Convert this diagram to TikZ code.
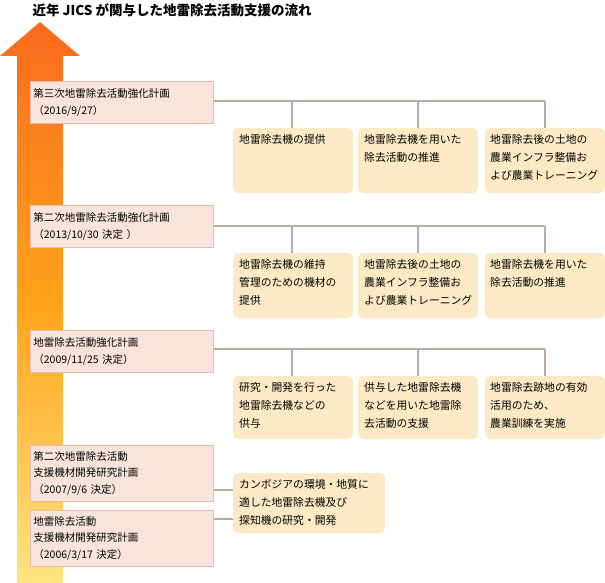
\documentclass[tikz,border=0pt]{standalone}
\usepackage{fontspec}
\setmainfont{Noto Sans CJK JP}
\definecolor{pinkf}{HTML}{F9E4DB}
\definecolor{pinkd}{HTML}{E8BBAA}
\definecolor{yel}{HTML}{FCEAC4}
\definecolor{ln}{HTML}{BCADA3}
\definecolor{orT}{HTML}{FA6A1E}
\definecolor{orB}{HTML}{FFE580}
\begin{document}
\begin{tikzpicture}[x=1pt,y=-1pt,
  plan/.style={draw=pinkd,fill=pinkf,line width=0.8pt,anchor=north west,minimum width=183pt,align=left,text width=177pt,inner sep=3pt,font=\fontsize{10.5}{16.5}\selectfont},
  acttxt/.style={anchor=north west,align=left,text width=118pt,inner sep=0pt,font=\fontsize{10.8}{18}\selectfont},
  actbg/.style={fill=yel,rounded corners=5pt},
  conn/.style={draw=ln,line width=1.3pt}]
\useasboundingbox (0,0) rectangle (605,583);
\shade[top color=orT,bottom color=orB,middle color=orange!80!yellow!90!white]
  (17,583) -- (17,56) -- (0,56) -- (40,22) -- (80,56) -- (63,56) -- (63,583) -- cycle;
\node[anchor=west,font=\fontsize{13.5}{15}\selectfont\bfseries] (title) at (29,10) {近年 JICS が関与した地雷除去活動支援の流れ};
% yellow backgrounds
\foreach \x/\y/\h in {233/128/65,358/128/65,485/128/65,233/253/65,358/253/65,485/253/65,233/376/63,358/376/63,485/376/63}
  {\fill[actbg] (\x,\y) rectangle ++(120,\h);}
\fill[actbg] (233,473) rectangle ++(152,60);
% row 1
\node[plan,minimum height=42pt] (p1) at (30,81) {第三次地雷除去活動強化計画\\（2016/9/27）};
\coordinate (h1) at (545,101);
\node[acttxt] (a11) at (239,134) {地雷除去機の提供};
\node[acttxt] (a12) at (364,134) {地雷除去機を用いた\\除去活動の推進};
\node[acttxt] (a13) at (490,134) {地雷除去後の土地の\\農業インフラ整備お\\よび農業トレーニング};
\draw[conn] (p1.east|-h1) -- (h1);
\foreach \c in {292,418,545}{\coordinate (t) at (\c,128); \draw[conn] (t) -- (t|-h1);}
% row 2
\node[plan,minimum height=42pt] (p2) at (30,205) {第二次地雷除去活動強化計画\\（2013/10/30 決定 ）};
\coordinate (h2) at (545,226);
\node[acttxt] (a21) at (239,259) {地雷除去機の維持\\管理のための機材の\\提供};
\node[acttxt] (a22) at (364,259) {地雷除去後の土地の\\農業インフラ整備お\\よび農業トレーニング};
\node[acttxt] (a23) at (490,259) {地雷除去機を用いた\\除去活動の推進};
\draw[conn] (p2.east|-h2) -- (h2);
\foreach \c in {292,418,545}{\coordinate (t) at (\c,253); \draw[conn] (t) -- (t|-h2);}
% row 3
\node[plan,minimum height=42pt] (p3) at (30,330) {地雷除去活動強化計画\\（2009/11/25 決定）};
\coordinate (h3) at (545,349);
\node[acttxt] (a31) at (239,382) {研究・開発を行った\\地雷除去機などの\\供与};
\node[acttxt] (a32) at (364,382) {供与した地雷除去機\\などを用いた地雷除\\去活動の支援};
\node[acttxt] (a33) at (490,382) {地雷除去跡地の有効\\活用のため、\\農業訓練を実施};
\draw[conn] (p3.east|-h3) -- (h3);
\foreach \c in {292,418,545}{\coordinate (t) at (\c,376); \draw[conn] (t) -- (t|-h3);}
% bottom
\node[plan,minimum height=56pt] (p4) at (30,445) {第二次地雷除去活動\\支援機材開発研究計画\\（2007/9/6 決定）};
\node[plan,minimum height=56pt] (p5) at (30,510) {地雷除去活動\\支援機材開発研究計画\\（2006/3/17 決定）};
\node[acttxt,text width=150pt] (a4) at (239,479) {カンボジアの環境・地質に\\適した地雷除去機及び\\探知機の研究・開発};
\coordinate (c4) at (233,490);
\coordinate (c5) at (233,519);
\draw[conn] (p4.east|-c4) -- (c4);
\draw[conn] (p5.east|-c5) -- (c5);
\end{tikzpicture}
\end{document}
